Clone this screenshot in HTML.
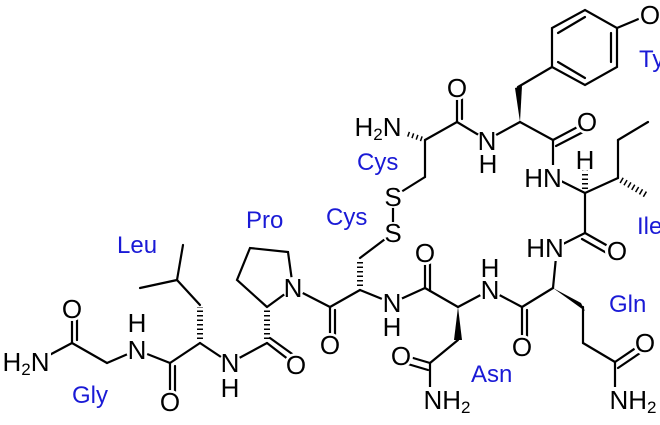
<!DOCTYPE html>
<html><head><meta charset="utf-8"><style>
html,body{margin:0;padding:0;background:#fff;}
svg{display:block;}
text{font-family:"Liberation Sans",Arial,sans-serif;font-size:26px;}
.a{fill:#000;text-anchor:middle;dominant-baseline:central;}
.l{fill:#1a1ad6;font-size:24px;}
</style></head><body>
<svg width="660" height="425" viewBox="0 0 660 425" xmlns="http://www.w3.org/2000/svg">
<g stroke="#000" stroke-width="2.2" fill="none" stroke-linecap="round">
<line x1="40" y1="360" x2="72" y2="343"/>
<line x1="72" y1="343" x2="72" y2="309"/><line x1="77" y1="340" x2="77" y2="309"/>
<line x1="72" y1="343" x2="107" y2="363"/>
<line x1="107" y1="363" x2="137" y2="350"/>
<line x1="137" y1="350" x2="170" y2="363"/>
<line x1="170" y1="363" x2="170" y2="400"/><line x1="175" y1="366" x2="175" y2="400"/>
<line x1="170" y1="363" x2="200" y2="343"/>
<line x1="200" y1="343" x2="230" y2="363"/>
<line x1="200" y1="305" x2="177" y2="280"/>
<line x1="177" y1="280" x2="140" y2="288"/>
<line x1="177" y1="280" x2="183" y2="245"/>
<line x1="230" y1="363" x2="267" y2="343"/>
<line x1="267" y1="343" x2="293" y2="363"/><line x1="270" y1="338" x2="295" y2="356"/>
<polyline points="267,307 237,280 250,248 288,252 293,288 267,307"/>
<line x1="293" y1="288" x2="330" y2="307"/>
<line x1="330" y1="307" x2="330" y2="343"/><line x1="335" y1="310" x2="335" y2="343"/>
<line x1="330" y1="307" x2="360" y2="290"/>
<line x1="360" y1="290" x2="392" y2="303"/>
<line x1="360" y1="258" x2="393" y2="233"/>
<line x1="393" y1="233" x2="393" y2="197"/>
<line x1="393" y1="197" x2="425" y2="177"/>
<line x1="425" y1="177" x2="425" y2="140"/>
<line x1="425" y1="140" x2="457" y2="122"/>
<line x1="457" y1="122" x2="457" y2="88"/><line x1="462" y1="119" x2="462" y2="88"/>
<line x1="457" y1="122" x2="487" y2="140"/>
<line x1="487" y1="140" x2="520" y2="122"/>
<line x1="518" y1="87" x2="552" y2="67"/>
<polygon points="552,67 552,28 585,10 617,28 617,67 585,85"/>
<line x1="558" y1="33" x2="585" y2="17"/><line x1="611" y1="33" x2="611" y2="62"/><line x1="558" y1="62" x2="585" y2="78"/>
<line x1="617" y1="28" x2="648" y2="15"/>
<line x1="520" y1="122" x2="553" y2="140"/>
<line x1="553" y1="140" x2="585" y2="123"/><line x1="556" y1="146" x2="587" y2="130"/>
<line x1="553" y1="140" x2="553" y2="177"/>
<line x1="553" y1="177" x2="585" y2="193"/>
<line x1="585" y1="193" x2="618" y2="178"/>
<line x1="618" y1="178" x2="618" y2="140"/>
<line x1="618" y1="140" x2="648" y2="122"/>
<line x1="585" y1="193" x2="585" y2="233"/>
<line x1="585" y1="233" x2="615" y2="250"/><line x1="582" y1="239" x2="612" y2="256"/>
<line x1="585" y1="233" x2="557" y2="247"/>
<line x1="557" y1="247" x2="553" y2="288"/>
<line x1="583" y1="307" x2="583" y2="343"/>
<line x1="583" y1="343" x2="615" y2="362"/>
<line x1="615" y1="362" x2="643" y2="343"/><line x1="618" y1="368" x2="646" y2="349"/>
<line x1="615" y1="362" x2="615" y2="392"/>
<line x1="553" y1="288" x2="522" y2="307"/>
<line x1="522" y1="307" x2="522" y2="345"/><line x1="527" y1="310" x2="527" y2="345"/>
<line x1="522" y1="307" x2="490" y2="290"/>
<line x1="490" y1="290" x2="458" y2="307"/>
<line x1="458" y1="340" x2="430" y2="363"/>
<line x1="430" y1="363" x2="403" y2="355"/><line x1="428" y1="370" x2="401" y2="362"/>
<line x1="430" y1="363" x2="430" y2="395"/>
<line x1="458" y1="307" x2="425" y2="288"/>
<line x1="425" y1="288" x2="425" y2="253"/><line x1="430" y1="291" x2="430" y2="253"/>
<line x1="425" y1="288" x2="392" y2="303"/>
</g>
<g stroke="#000" stroke-width="1.5">
<line x1="200" y1="339" x2="200" y2="307" stroke-width="6" stroke-dasharray="1.5,3"/>
<line x1="267" y1="339" x2="267" y2="309" stroke-width="6" stroke-dasharray="1.5,3"/>
<line x1="360" y1="286" x2="360" y2="260" stroke-width="6" stroke-dasharray="1.5,3"/>
<line x1="422" y1="139" x2="405" y2="133" stroke-width="5" stroke-dasharray="1.5,3"/>
<line x1="585" y1="189" x2="585" y2="170" stroke-width="6" stroke-dasharray="1.5,3"/>
<line x1="621" y1="180" x2="648" y2="196" stroke-width="6" stroke-dasharray="1.5,3"/>
</g>
<g fill="#000">
<polygon points="520,122 515,88 522,86"/>
<polygon points="553,288 581,303 585,311"/>
<polygon points="458,307 454,340 462,340"/>
</g>
<g fill="#fff">
<rect x="1" y="349" width="50" height="28"/>
<circle cx="72" cy="309" r="12"/>
<circle cx="137" cy="350" r="11"/><circle cx="137" cy="323" r="11"/>
<circle cx="170" cy="402" r="12"/>
<circle cx="230" cy="363" r="11"/><circle cx="230" cy="388" r="11"/>
<circle cx="296" cy="365" r="12"/>
<circle cx="293" cy="288" r="11"/>
<circle cx="330" cy="345" r="12"/>
<circle cx="393" cy="233" r="11"/><circle cx="393" cy="197" r="11"/>
<rect x="353" y="114" width="50" height="28"/>
<circle cx="457" cy="88" r="12"/>
<circle cx="487" cy="141" r="11"/><circle cx="488" cy="164" r="11"/>
<circle cx="650" cy="15" r="12"/>
<circle cx="587" cy="122" r="12"/>
<rect x="524" y="165" width="38" height="26"/>
<circle cx="585" cy="160" r="11"/>
<circle cx="617" cy="251" r="12"/>
<rect x="526" y="235" width="38" height="26"/>
<circle cx="645" cy="343" r="12"/>
<rect x="605" y="387" width="54" height="28"/>
<circle cx="522" cy="347" r="12"/>
<circle cx="490" cy="290" r="11"/><circle cx="490" cy="268" r="11"/>
<circle cx="401" cy="356" r="12"/>
<rect x="419" y="387" width="54" height="28"/>
<circle cx="425" cy="253" r="12"/>
<circle cx="392" cy="303" r="11"/><circle cx="392" cy="327" r="11"/>
</g>
<text class="a" x="26" y="362">H<tspan font-size="17" dy="7">2</tspan><tspan dy="-7">N</tspan></text>
<text class="a" x="72" y="309">O</text>
<text class="a" x="137" y="350">N</text><text class="a" x="137" y="323">H</text>
<text class="a" x="170" y="402">O</text>
<text class="a" x="230" y="363">N</text><text class="a" x="230" y="388">H</text>
<text class="a" x="296" y="365">O</text>
<text class="a" x="293" y="288">N</text>
<text class="a" x="330" y="345">O</text>
<text class="a" x="393" y="233">S</text>
<text class="a" x="393" y="197">S</text>
<text class="a" x="378" y="127">H<tspan font-size="17" dy="7">2</tspan><tspan dy="-7">N</tspan></text>
<text class="a" x="457" y="88">O</text>
<text class="a" x="487" y="141">N</text><text class="a" x="488" y="164">H</text>
<text class="a" x="650" y="15">O</text>
<text class="a" x="587" y="122">O</text>
<text class="a" x="543" y="178">HN</text>
<text class="a" x="585" y="160">H</text>
<text class="a" x="617" y="251">O</text>
<text class="a" x="545" y="248">HN</text>
<text class="a" x="645" y="343">O</text>
<text class="a" x="633" y="400">NH<tspan font-size="17" dy="7">2</tspan></text>
<text class="a" x="522" y="347">O</text>
<text class="a" x="490" y="290">N</text><text class="a" x="490" y="268">H</text>
<text class="a" x="401" y="356">O</text>
<text class="a" x="447" y="400">NH<tspan font-size="17" dy="7">2</tspan></text>
<text class="a" x="425" y="253">O</text>
<text class="a" x="392" y="303">N</text><text class="a" x="392" y="327">H</text>
<text class="l" x="117" y="253">Leu</text>
<text class="l" x="246" y="228">Pro</text>
<text class="l" x="72" y="403">Gly</text>
<text class="l" x="357" y="170">Cys</text>
<text class="l" x="326" y="225">Cys</text>
<text class="l" x="471" y="382">Asn</text>
<text class="l" x="609" y="312">Gln</text>
<text class="l" x="637" y="234">Ile</text>
<text class="l" x="639" y="67">Ty</text>
</svg>
</body></html>
